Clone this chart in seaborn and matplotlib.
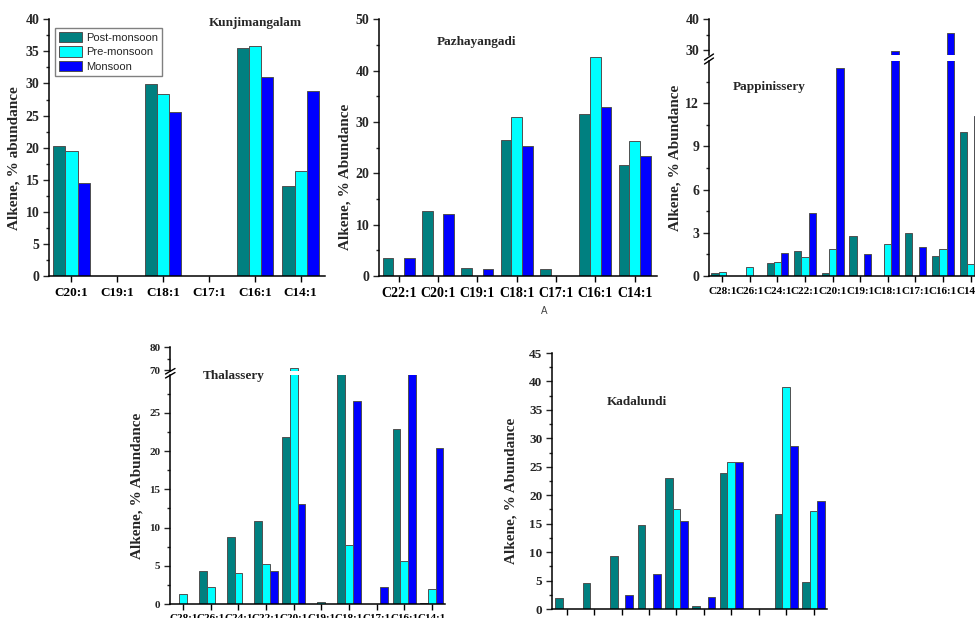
import matplotlib.pyplot as plt
import matplotlib.ticker as mticker
from matplotlib.lines import Line2D
from matplotlib.patches import Patch
import pandas as pd
import seaborn as sns

sns.set_style('ticks')
plt.rcParams['font.family'] = ['Liberation Serif', 'DejaVu Serif']
plt.rcParams['font.weight'] = 'bold'

seasons = ['Post-monsoon', 'Pre-monsoon', 'Monsoon']
colors = ['#008080', '#00FFFF', '#0000FF']

# Kunjimangalam
kun_cats = ['C20:1', 'C19:1', 'C18:1', 'C17:1', 'C16:1', 'C14:1']
kun_post = [20.3, 0, 29.9, 0, 35.5, 14.1]
kun_pre = [19.5, 0, 28.3, 0, 35.8, 16.3]
kun_mon = [14.5, 0, 25.6, 0, 31.0, 28.8]

# Pazhayangadi
paz_cats = ['C22:1', 'C20:1', 'C19:1', 'C18:1', 'C17:1', 'C16:1', 'C14:1']
paz_post = [3.6, 12.6, 1.5, 26.4, 1.3, 31.5, 21.6]
paz_pre = [0, 0, 0, 31.0, 0, 42.7, 26.2]
paz_mon = [3.5, 12.1, 1.4, 25.3, 0, 32.9, 23.4]

long_cats = ['C28:1', 'C26:1', 'C24:1', 'C22:1', 'C20:1',
             'C19:1', 'C18:1', 'C17:1', 'C16:1', 'C14:1']

# Pappinissery
pap_post = [0.19, 0, 0.88, 1.71, 0.21, 2.8, 0, 2.96, 1.39, 9.98]
pap_pre = [0.3, 0.6, 0.97, 1.3, 1.9, 0, 2.25, 0, 1.9, 0.81]
pap_mon = [0, 0, 1.62, 4.35, 14.42, 1.5, 29.8, 1.99, 35.4, 11.1]

# Thalassery
tha_post = [0, 4.32, 8.73, 10.9, 21.8, 0, 45.0, 0, 22.9, 0.13]
tha_pre = [1.27, 2.27, 4.02, 5.2, 71.0, 0.22, 7.73, 0, 5.63, 1.92]
tha_mon = [0, 0, 0, 4.32, 13.1, 0, 26.6, 2.18, 40.0, 20.4]

# Kadalundi
kad_post = [2.0, 4.57, 9.37, 14.8, 23.1, 0.5, 23.9, 0, 16.75, 4.7]
kad_pre = [0, 0, 0, 0, 17.6, 0, 25.8, 0, 39.1, 17.3]
kad_mon = [0, 0, 2.52, 6.2, 15.4, 2.1, 25.9, 0, 28.6, 19.0]

W, H = 975, 618
fig = plt.figure(figsize=(W / 100, H / 100), dpi=100)


def add_ax(left, top, right, bottom):
    return fig.add_axes([left / W, 1 - bottom / H, (right - left) / W, (bottom - top) / H])


def frame(cats, post, pre, mon):
    return pd.DataFrame({
        'cat': cats * 3,
        'season': [s for s in seasons for _ in cats],
        'val': post + pre + mon,
    })


def bars(ax, df, cats, width):
    sns.barplot(data=df, x='cat', y='val', hue='season', order=cats, hue_order=seasons,
                palette=colors, saturation=1, width=width, edgecolor='#505050',
                linewidth=0.7, errorbar=None, legend=False, ax=ax)


def style(ax, xlim, ylim, major, xsize, ysize, xpad=4):
    ax.set_xlim(*xlim)
    ax.set_ylim(*ylim)
    ax.yaxis.set_major_locator(mticker.MultipleLocator(major))
    ax.yaxis.set_minor_locator(mticker.AutoMinorLocator(2))
    sns.despine(ax=ax)
    ax.set_xlabel('')
    ax.set_ylabel('')
    ax.tick_params(axis='x', direction='out', length=4, width=1, labelsize=xsize, pad=xpad, colors='black')
    ax.tick_params(axis='y', which='major', direction='out', length=4, width=1, labelsize=ysize, pad=3)
    ax.tick_params(axis='y', which='minor', direction='out', length=2, width=1)
    for s in ax.spines.values():
        s.set_linewidth(1.1)
        s.set_color('black')


def top_part(ax):
    ax.spines['bottom'].set_visible(False)
    ax.tick_params(axis='x', bottom=False, labelbottom=False)


def ylab(ax, text, x, y):
    ax.set_ylabel(text, fontsize=11, fontweight='bold')
    ax.yaxis.set_label_coords(x, y)


def title(ax, text, x, y):
    ax.text(x, y, text, transform=ax.transAxes, ha='center', va='center',
            fontsize=9.5, fontweight='bold')


def brk(x0, x1, ys, dy):
    for y in ys:
        fig.add_artist(Line2D([x0 / W, x1 / W], [1 - y / H, 1 - (y - dy) / H],
                              color='black', lw=1.0, transform=fig.transFigure))


# Kunjimangalam
ax1 = add_ax(49, 19.3, 325, 276)
bars(ax1, frame(kun_cats, kun_post, kun_pre, kun_mon), kun_cats, 0.8)
style(ax1, (-0.49, 5.53), (0, 40), 5, 9.5, 10)
ylab(ax1, 'Alkene, % abundance', -0.105, 0.46)
title(ax1, 'Kunjimangalam', 0.747, 0.984)
handles = [Patch(facecolor=c, edgecolor='#505050', linewidth=0.7) for c in colors]
ax1.legend(handles, seasons, loc='upper left', bbox_to_anchor=(0.022, 0.965),
           borderaxespad=0, frameon=True, fancybox=False, framealpha=1,
           edgecolor='#808080',
           prop={'family': ['Liberation Sans', 'DejaVu Sans'], 'size': 8, 'weight': 'normal'},
           handlelength=2.1, handleheight=1.05, labelspacing=0.3, borderpad=0.35,
           handletextpad=0.3)

# Pazhayangadi
ax2 = add_ax(379, 19.3, 656.7, 276)
bars(ax2, frame(paz_cats, paz_post, paz_pre, paz_mon), paz_cats, 0.81)
style(ax2, (-0.5, 6.56), (0, 50), 10, 10, 10)
ylab(ax2, 'Alkene, % Abundance', -0.1, 0.385)
title(ax2, 'Pazhayangadi', 0.352, 0.91)

# Pappinissery (broken axis)
pap_df = frame(long_cats, pap_post, pap_pre, pap_mon)
ax3t = add_ax(709, 19.3, 987.2, 55)
ax3b = add_ax(709, 61, 987.2, 276)
bars(ax3t, pap_df, long_cats, 0.79)
bars(ax3b, pap_df, long_cats, 0.79)
style(ax3t, (-0.48, 9.6), (28.4, 40), 10, 8, 10)
style(ax3b, (-0.48, 9.6), (0, 14.93), 3, 8, 10)
top_part(ax3t)
ylab(ax3b, 'Alkene, % Abundance', -0.1, 0.55)
title(ax3b, 'Pappinissery', 0.218, 0.881)
brk(704.5, 713.5, [60, 64], 6)

# Thalassery (broken axis)
tha_df = frame(long_cats, tha_post, tha_pre, tha_mon)
ax4t = add_ax(170, 347, 445, 371)
ax4b = add_ax(170, 375, 445, 604)
bars(ax4t, tha_df, long_cats, 0.84)
bars(ax4b, tha_df, long_cats, 0.84)
style(ax4t, (-0.48, 9.48), (69.6, 80), 10, 8, 8)
style(ax4b, (-0.48, 9.48), (0, 29.95), 5, 8, 8, xpad=3)
top_part(ax4t)
ylab(ax4b, 'Alkene, % Abundance', -0.098, 0.516)
title(ax4b, 'Thalassery', 0.233, 0.997)
brk(165.5, 175, [374, 378], 5.5)

# Kadalundi
ax5 = add_ax(552, 353, 827, 609)
bars(ax5, frame(long_cats, kad_post, kad_pre, kad_mon), long_cats, 0.84)
style(ax5, (-0.54, 9.49), (0, 45), 5, 8, 9.5, xpad=6)
ylab(ax5, 'Alkene, % Abundance', -0.124, 0.46)
title(ax5, 'Kadalundi', 0.307, 0.81)

fig.text(544 / W, 1 - 311 / H, 'A', fontsize=7, fontweight='normal',
         family=['Liberation Sans', 'DejaVu Sans'], color='#444444', ha='center', va='center')

fig.savefig('out.png', dpi=100)
